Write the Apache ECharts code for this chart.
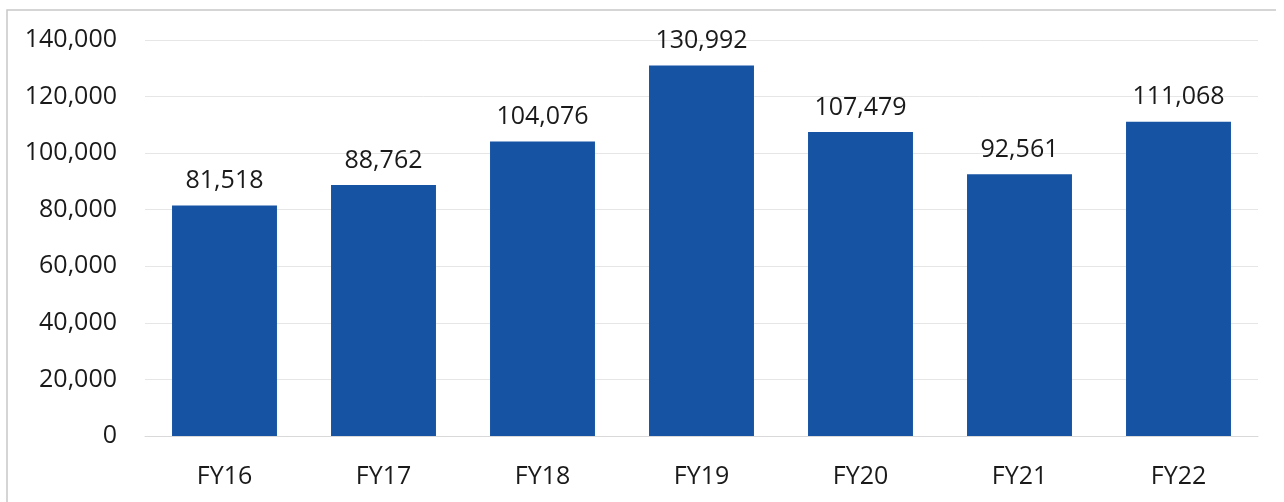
<!DOCTYPE html>
<html>
<head>
<meta charset="utf-8">
<script src="https://cdn.jsdelivr.net/npm/echarts@6/dist/echarts.min.js"></script>
<style>
  html, body { margin: 0; padding: 0; background: #fff; }
  #chart { width: 1284px; height: 502px; }
</style>
</head>
<body>
<div id="chart"></div>
<script>
// Annual totals by fiscal year
const categories = ['FY16', 'FY17', 'FY18', 'FY19', 'FY20', 'FY21', 'FY22'];
const values = [81518, 88762, 104076, 130992, 107479, 92561, 111068];

const FONT = '"Open Sans", "Noto Sans", sans-serif';
const fmt = v => v.toLocaleString('en-US');

const chart = echarts.init(document.getElementById('chart'), null, { renderer: 'canvas' });
chart.setOption({
  animation: false,
  backgroundColor: '#ffffff',
  graphic: [{
    type: 'polyline',
    shape: { points: [[7, 502], [7, 10], [1276, 10]] },
    style: { stroke: '#c8c8c8', lineWidth: 1.5, fill: null }
  }],
  grid: { left: 145, right: 26, top: 40, bottom: 66, containLabel: false },
  xAxis: {
    type: 'category',
    data: categories,
    axisLine: { show: true, lineStyle: { color: '#d9d9d9', width: 1 } },
    axisTick: { show: false },
    axisLabel: { color: '#1a1a1a', fontFamily: FONT, fontSize: 25, margin: 28 }
  },
  yAxis: {
    type: 'value',
    min: 0,
    max: 140000,
    interval: 20000,
    axisLine: { show: false },
    axisTick: { show: false },
    splitLine: { lineStyle: { color: '#e6e6e6', width: 1 } },
    axisLabel: { color: '#1a1a1a', fontFamily: FONT, fontSize: 25, margin: 28, formatter: fmt }
  },
  series: [{
    type: 'bar',
    data: values,
    barWidth: '66%',
    itemStyle: { color: '#1653a3' },
    label: {
      show: true,
      position: 'top',
      distance: 12,
      color: '#1a1a1a',
      fontFamily: FONT,
      fontSize: 25,
      formatter: p => fmt(p.value)
    }
  }]
});
</script>
</body>
</html>
